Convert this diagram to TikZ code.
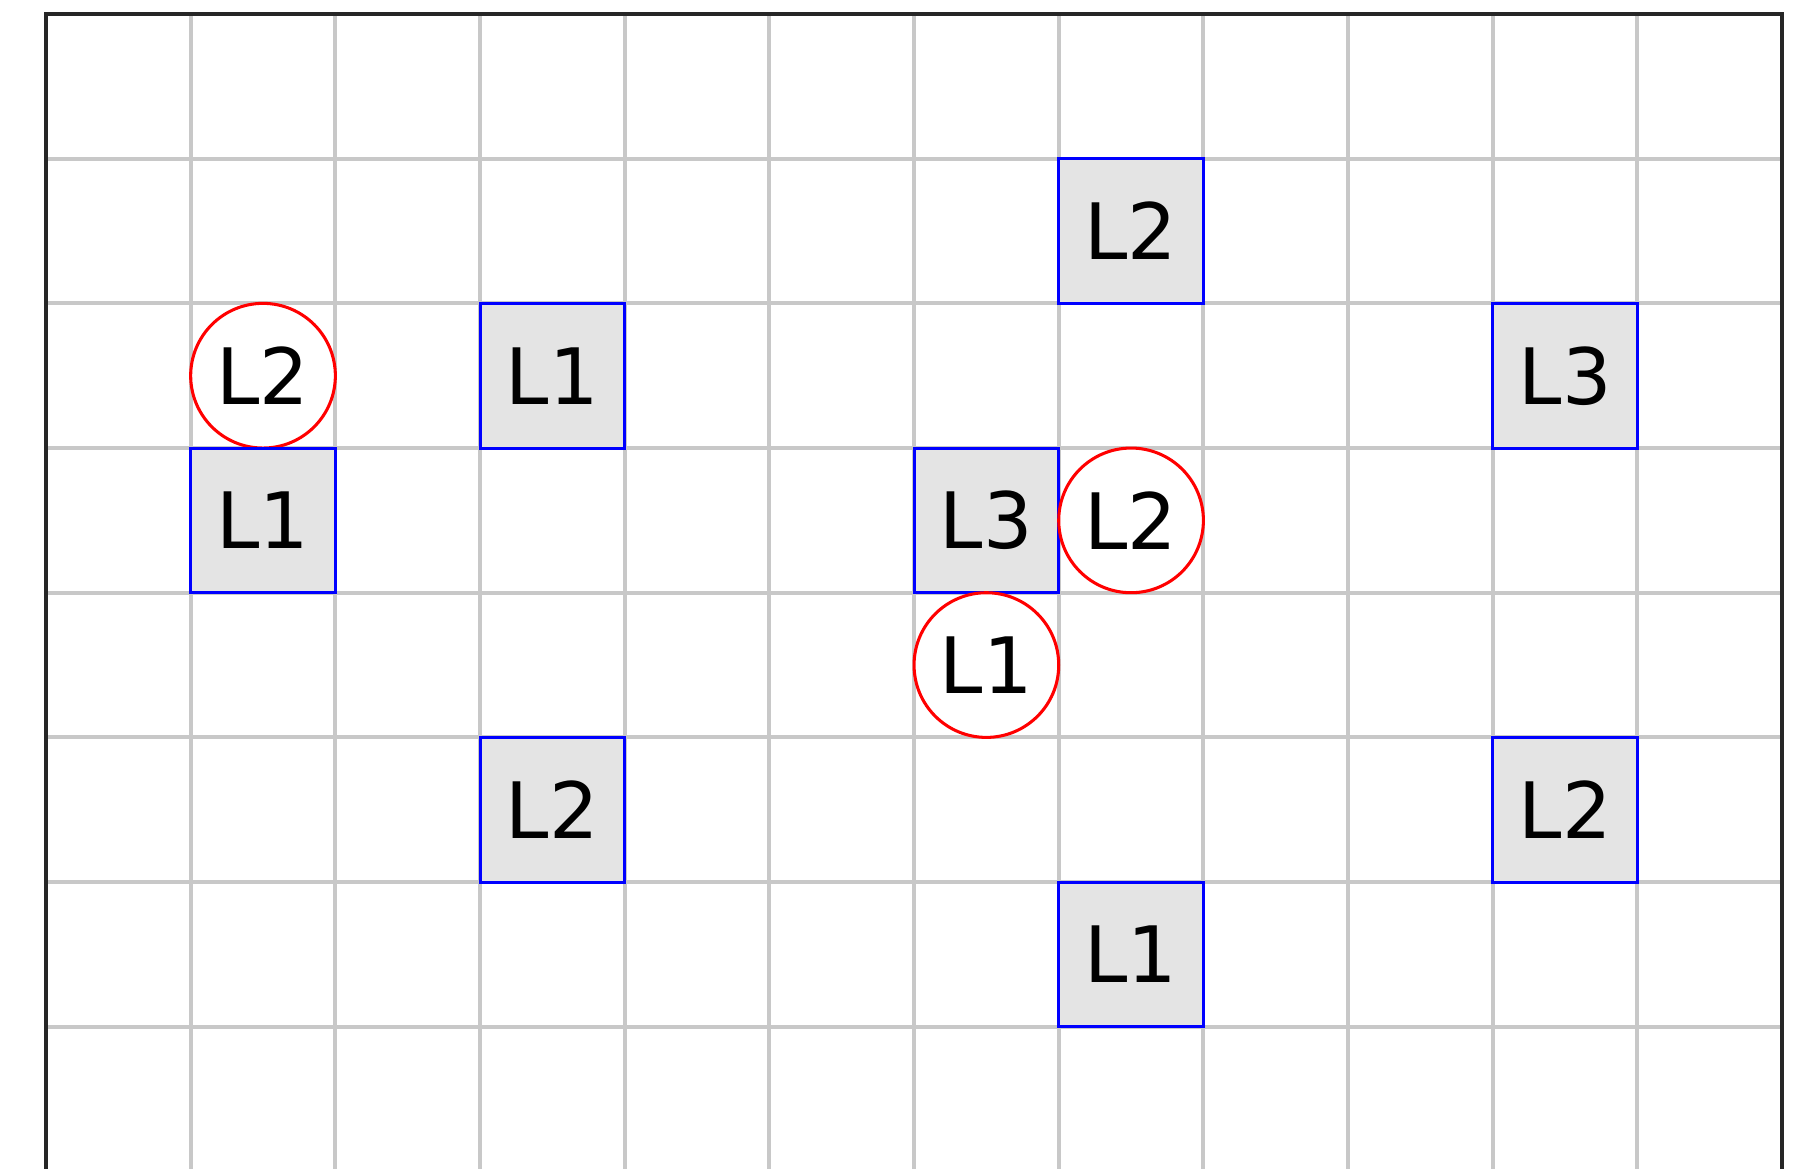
\documentclass[tikz,border=0pt]{standalone}
\usepackage{fontspec}
\setmainfont{DejaVu Sans}
\usepackage{xcolor}
\usepackage{tikz}
\usetikzlibrary{positioning}
\definecolor{gridgray}{RGB}{200, 200, 200}
\definecolor{cellgray}{RGB}{228, 228, 228}
\tikzset{
  sqcell/.style={
    draw=blue,
    fill=cellgray,
    line width=0.6pt,
    minimum size=1cm,
    inner sep=0pt,
    font=\fontsize{15.3}{18}\selectfont
  },
  circcell/.style={
    circle,
    draw=red,
    fill=white,
    line width=0.6pt,
    minimum size=1cm,
    inner sep=0pt,
    font=\fontsize{15.3}{18}\selectfont
  }
}

\begin{document}
\begin{tikzpicture}
  \useasboundingbox (-0.318,0.023) rectangle (12.179,8.097);
  \draw[gridgray, line width=0.8pt] (0,0) grid[step=1] (12,8);
  \draw[black!85, line width=0.9pt] (0,0) rectangle (12,8);

  \node[sqcell] (sqa) at (7.5,6.5) {L2};
  \node[circcell] (cia) at (1.5,5.5) {L2};
  \node[sqcell] (sqb) at (3.5,5.5) {L1};
  \node[sqcell] (sqc) at (10.5,5.5) {L3};
  \node[sqcell] (sqd) at (1.5,4.5) {L1};
  \node[sqcell] (sqe) at (6.5,4.5) {L3};
  \node[circcell] (cib) at (7.5,4.5) {L2};
  \node[circcell] (cic) at (6.5,3.5) {L1};
  \node[sqcell] (sqf) at (3.5,2.5) {L2};
  \node[sqcell] (sqg) at (10.5,2.5) {L2};
  \node[sqcell] (sqh) at (7.5,1.5) {L1};
\end{tikzpicture}
\end{document}
